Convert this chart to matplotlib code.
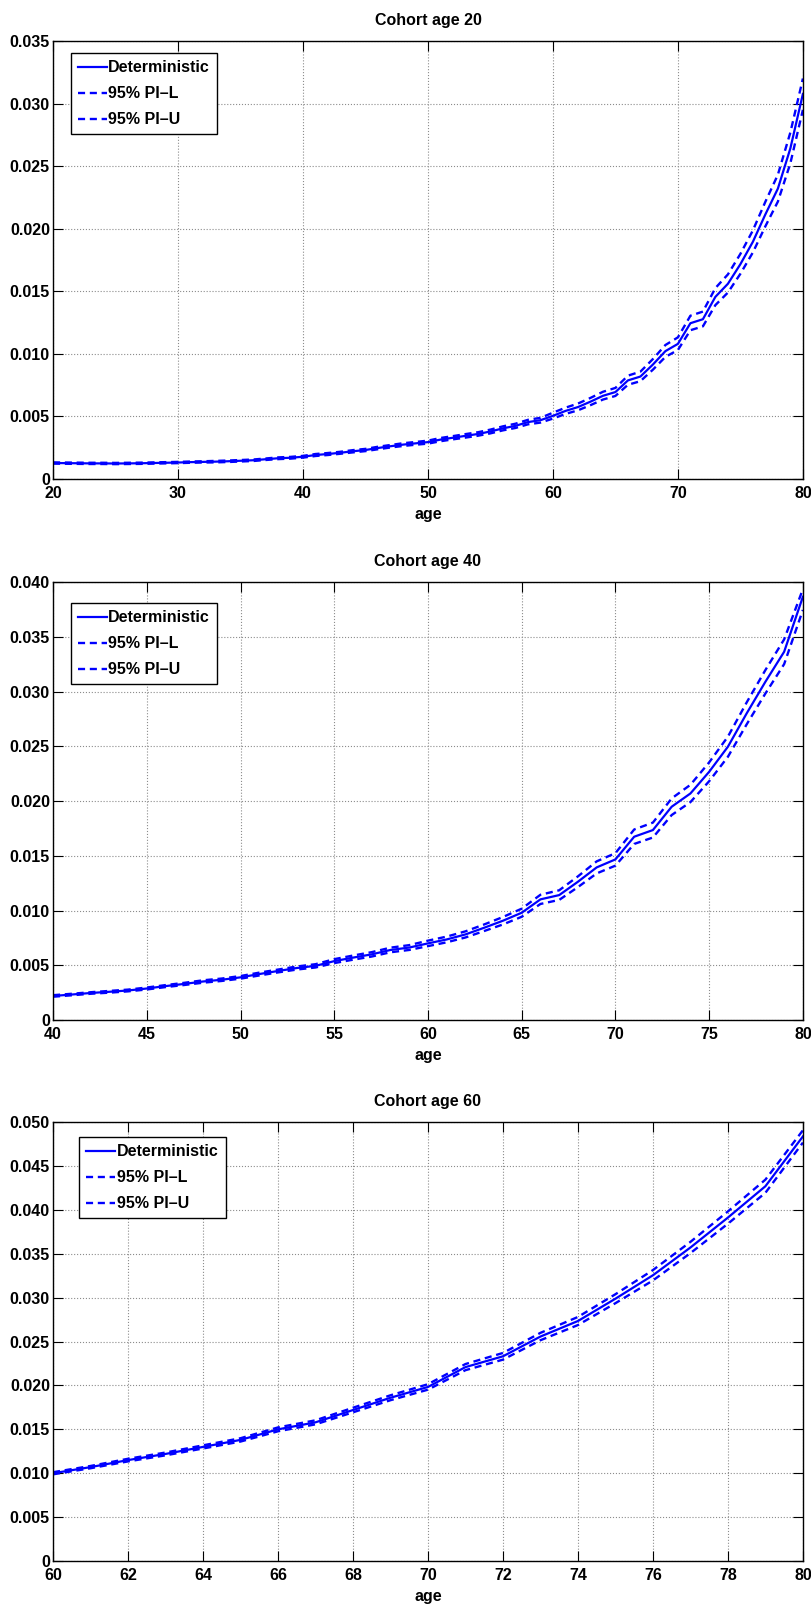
import matplotlib
matplotlib.use('Agg')
import matplotlib.pyplot as plt
from matplotlib.ticker import FuncFormatter, MultipleLocator

plt.rcParams['font.family'] = 'Liberation Sans'
plt.rcParams['font.weight'] = 'bold'
plt.rcParams['font.size'] = 11.5

ages1 = list(range(20, 81))
det1 = [0.00128, 0.00127, 0.00126, 0.00125, 0.00125, 0.00124, 0.00125, 0.00126, 0.00128, 0.00130,
        0.00132, 0.00135, 0.00137, 0.00139, 0.00142, 0.00146, 0.00150, 0.00158, 0.00166, 0.00170,
        0.00178, 0.00192, 0.00200, 0.00210, 0.00222, 0.00232, 0.00248, 0.00262, 0.00275, 0.00285,
        0.00295, 0.00315, 0.00330, 0.00345, 0.00360, 0.00380, 0.00405, 0.00425, 0.00455, 0.00470,
        0.00505, 0.00544, 0.00575, 0.00618, 0.00665, 0.00695, 0.00788, 0.00819, 0.00915, 0.01022,
        0.01080, 0.01245, 0.01277, 0.01456, 0.01560, 0.01717, 0.01896, 0.02115, 0.02321, 0.02643,
        0.03077]
lo1 = [0.00123, 0.00122, 0.00121, 0.00120, 0.00120, 0.00119, 0.00120, 0.00121, 0.00123, 0.00125,
       0.00127, 0.00130, 0.00132, 0.00133, 0.00136, 0.00140, 0.00144, 0.00152, 0.00159, 0.00163,
       0.00171, 0.00184, 0.00192, 0.00202, 0.00213, 0.00223, 0.00238, 0.00252, 0.00264, 0.00274,
       0.00283, 0.00302, 0.00317, 0.00331, 0.00346, 0.00365, 0.00389, 0.00408, 0.00437, 0.00451,
       0.00483, 0.00520, 0.00549, 0.00590, 0.00635, 0.00664, 0.00753, 0.00782, 0.00874, 0.00976,
       0.01031, 0.01189, 0.01220, 0.01390, 0.01490, 0.01640, 0.01811, 0.02020, 0.02217, 0.02524,
       0.02950]
hi1 = [0.00133, 0.00132, 0.00131, 0.00130, 0.00130, 0.00129, 0.00130, 0.00131, 0.00133, 0.00135,
       0.00137, 0.00140, 0.00142, 0.00145, 0.00148, 0.00152, 0.00156, 0.00164, 0.00173, 0.00177,
       0.00185, 0.00200, 0.00208, 0.00218, 0.00231, 0.00241, 0.00258, 0.00272, 0.00286, 0.00296,
       0.00307, 0.00328, 0.00343, 0.00359, 0.00374, 0.00395, 0.00421, 0.00442, 0.00473, 0.00489,
       0.00530, 0.00570, 0.00603, 0.00648, 0.00697, 0.00728, 0.00826, 0.00858, 0.00959, 0.01071,
       0.01132, 0.01305, 0.01338, 0.01526, 0.01635, 0.01799, 0.01987, 0.02216, 0.02432, 0.02770,
       0.03200]

ages2 = list(range(40, 81))
det2 = [0.00220, 0.00233, 0.00247, 0.00258, 0.00270, 0.00288, 0.00310, 0.00330, 0.00352, 0.00368,
        0.00390, 0.00420, 0.00448, 0.00475, 0.00495, 0.00538, 0.00570, 0.00600, 0.00640, 0.00662,
        0.00700, 0.00736, 0.00782, 0.00843, 0.00907, 0.00980, 0.01102, 0.01141, 0.01263, 0.01394,
        0.01467, 0.01674, 0.01735, 0.01948, 0.02069, 0.02267, 0.02496, 0.02800, 0.03089, 0.03363,
        0.03865]
lo2 = [0.00213, 0.00226, 0.00240, 0.00250, 0.00262, 0.00279, 0.00301, 0.00320, 0.00341, 0.00357,
       0.00378, 0.00407, 0.00435, 0.00461, 0.00480, 0.00520, 0.00551, 0.00580, 0.00619, 0.00640,
       0.00675, 0.00710, 0.00754, 0.00813, 0.00873, 0.00943, 0.01060, 0.01097, 0.01214, 0.01339,
       0.01410, 0.01608, 0.01667, 0.01872, 0.01990, 0.02181, 0.02404, 0.02700, 0.02982, 0.03250,
       0.03745]
hi2 = [0.00227, 0.00240, 0.00254, 0.00266, 0.00278, 0.00297, 0.00319, 0.00340, 0.00363, 0.00379,
       0.00402, 0.00433, 0.00461, 0.00489, 0.00510, 0.00556, 0.00589, 0.00620, 0.00661, 0.00684,
       0.00725, 0.00762, 0.00810, 0.00873, 0.00941, 0.01017, 0.01144, 0.01185, 0.01312, 0.01449,
       0.01524, 0.01740, 0.01803, 0.02024, 0.02148, 0.02353, 0.02588, 0.02900, 0.03196, 0.03476,
       0.03935]

ages3 = list(range(60, 81))
det3 = [0.01000, 0.01070, 0.01150, 0.01220, 0.01300, 0.01380, 0.01500, 0.01580, 0.01720, 0.01860,
        0.01983, 0.02209, 0.02332, 0.02557, 0.02734, 0.02988, 0.03255, 0.03571, 0.03912, 0.04269,
        0.04836]
lo3 = [0.00988, 0.01057, 0.01135, 0.01204, 0.01282, 0.01361, 0.01478, 0.01557, 0.01694, 0.01832,
       0.01952, 0.02174, 0.02294, 0.02515, 0.02688, 0.02937, 0.03196, 0.03507, 0.03842, 0.04194,
       0.04766]
hi3 = [0.01012, 0.01083, 0.01165, 0.01236, 0.01318, 0.01399, 0.01522, 0.01603, 0.01746, 0.01888,
       0.02014, 0.02244, 0.02370, 0.02599, 0.02780, 0.03039, 0.03314, 0.03635, 0.03982, 0.04344,
       0.04906]

panels = [
    ('Cohort age 20', ages1, det1, lo1, hi1, 0.035, 10, [0.0654, 0.7032, 0.9246, 0.2714], (0.0236, 0.9726)),
    ('Cohort age 40', ages2, det2, lo2, hi2, 0.040, 5, [0.0654, 0.3680, 0.9246, 0.2714], (0.0236, 0.952)),
    ('Cohort age 60', ages3, det3, lo3, hi3, 0.050, 2, [0.0654, 0.0328, 0.9246, 0.2720], (0.0347, 0.966)),
]

fig = plt.figure(figsize=(8.11, 16.14), dpi=100)

for title, ages, det, lo, hi, ymax, xstep, pos, legpos in panels:
    ax = fig.add_axes(pos)
    ax.plot(ages, det, color='blue', lw=1.6, label='Deterministic')
    ax.plot(ages, lo, color='blue', lw=1.7, ls=(0, (3, 2)), label='95% PI\u2013L')
    ax.plot(ages, hi, color='blue', lw=1.7, ls=(0, (3, 2)), label='95% PI\u2013U')
    ax.set_xlim(ages[0], ages[-1])
    ax.set_ylim(0, ymax)
    ax.xaxis.set_major_locator(MultipleLocator(xstep))
    ax.yaxis.set_major_locator(MultipleLocator(0.005))
    ax.yaxis.set_major_formatter(FuncFormatter(lambda v, p: '0' if abs(v) < 1e-9 else '%.3f' % v))
    ax.tick_params(direction='in', top=True, right=True, length=7, width=0.8)
    ax.tick_params(axis='x', pad=5)
    ax.tick_params(axis='y', pad=2.2)
    ax.grid(True, ls=':', color='0.55', lw=0.8)
    for s in ax.spines.values():
        s.set_linewidth(1.0)
    ax.set_title(title, fontweight='bold', fontsize=11.5, pad=11.5)
    ax.set_xlabel('age', fontweight='bold', labelpad=4.4)
    leg = ax.legend(loc='upper left', bbox_to_anchor=legpos, fancybox=False, framealpha=1,
                    edgecolor='black', handlelength=1.8, handletextpad=0.1, borderpad=0.45,
                    labelspacing=0.69, borderaxespad=0)
    leg.get_frame().set_linewidth(1.0)

plt.savefig('out.png', dpi=100)
